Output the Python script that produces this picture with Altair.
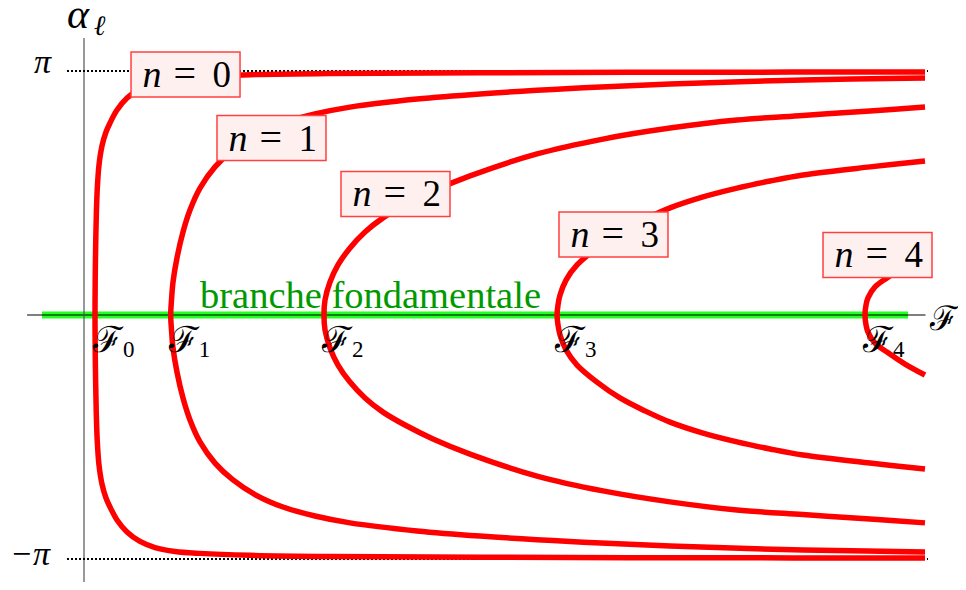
import altair as alt
import pandas as pd

# ---- data: load F (units where F_n ~ (2n+1)^2), alpha in units of pi
# lower half of each branch, from the bifurcation point to the right edge (upper half is its mirror)
N0_F = [1.140, 1.161, 1.202, 1.264, 1.368, 1.554, 1.865, 2.280, 2.694, 3.420, 4.456, 5.803, 7.358,
        9.430, 12.021, 17.202, 25.492, 41.036, 63.834, 87.150]
N0_A = [0.0, -0.143, -0.266, -0.389, -0.512, -0.615, -0.693, -0.750, -0.787, -0.840, -0.889, -0.928, -0.953,
        -0.969, -0.977, -0.985, -0.990, -0.993, -0.995, -0.996]

N1_F = [8.984, 9.067, 9.223, 9.637, 10.259, 10.984, 12.021, 13.575, 15.440, 17.720, 20.622, 23.938, 27.565,
        34.508, 41.036, 50.363, 60.725, 74.508, 87.150]
N1_A = [0.0, -0.061, -0.135, -0.234, -0.340, -0.430, -0.520, -0.607, -0.676, -0.736, -0.787, -0.824, -0.852,
        -0.885, -0.906, -0.928, -0.947, -0.963, -0.971]

N2_F = [24.870, 24.974, 25.492, 26.321, 27.565, 29.119, 30.984, 33.264, 36.166, 40.000, 46.943, 53.782,
        60.725, 67.668, 74.508, 81.451, 87.150]
N2_A = [0.0, -0.061, -0.135, -0.205, -0.275, -0.340, -0.398, -0.451, -0.508, -0.570, -0.660, -0.721,
        -0.766, -0.799, -0.818, -0.836, -0.852]

N3_F = [49.02, 49.12, 49.33, 49.95, 51.09, 53.16, 55.54, 58.13, 60.73, 64.15, 67.67, 71.09, 74.51, 81.45, 87.15]
N3_A = [0.0, -0.041, -0.082, -0.143, -0.205, -0.275, -0.340, -0.393, -0.439, -0.484, -0.520, -0.549, -0.574,
        -0.607, -0.631]

N4_F = [80.93, 81.04, 81.24, 81.97, 83.21, 85.08, 87.15]
N4_A = [0.0, -0.041, -0.070, -0.115, -0.152, -0.201, -0.246]

BRANCH_N = ["0", "1", "2", "3", "4"]
CRIT_F = [1.14, 8.98, 24.87, 49.02, 80.93]
LABEL_F = [10.52, 19.43, 32.28, 54.87, 82.23]
LABEL_A = [0.986, 0.725, 0.496, 0.330, 0.246]

FUND_TEXT = "branche fondamentale"

# ---- layout of the frame (data units)
X_MIN, X_MAX = -7.876, 90.57
Y_MIN, Y_MAX = -1.0943, 1.2582

xs = alt.Scale(domain=[X_MIN, X_MAX], nice=False, zero=False)
ys = alt.Scale(domain=[Y_MIN, Y_MAX], nice=False, zero=False)
X = alt.X("F:Q", scale=xs, axis=None)
Y = alt.Y("A:Q", scale=ys, axis=None)

rows = []
for n, F, A in zip(BRANCH_N, [N0_F, N1_F, N2_F, N3_F, N4_F], [N0_A, N1_A, N2_A, N3_A, N4_A]):
    pts = list(zip(F, A))
    upper = [(f, -a) for f, a in reversed(pts)]
    seq = upper + pts[1:]
    for i, (f, a) in enumerate(seq):
        rows.append({"n": n, "F": f, "A": a, "i": i})
curves = pd.DataFrame(rows)

band = alt.Chart(pd.DataFrame({"F": [-4.35], "F2": [85.39], "A": [0.0]})).mark_rule(
    color="#22ff22", strokeWidth=7).encode(x=X, x2="F2:Q", y=Y)
haxis = alt.Chart(pd.DataFrame({"F": [-5.9], "F2": [87.2], "A": [0.0]})).mark_rule(
    color="black", strokeWidth=1.2).encode(x=X, x2="F2:Q", y=Y)
vaxis = alt.Chart(pd.DataFrame({"F": [0.0], "A": [1.135], "A2": [Y_MIN]})).mark_rule(
    color="#555555", strokeWidth=1.2).encode(x=X, y=Y, y2="A2:Q")
dots = alt.Chart(pd.DataFrame({"F": [-1.76, -1.76], "F2": [87.46, 87.46], "A": [1.0, -1.0]})).mark_rule(
    color="black", strokeWidth=2, strokeDash=[2, 2]).encode(x=X, x2="F2:Q", y=Y)

lines = alt.Chart(curves).mark_line(
    color="#ff0000", strokeWidth=5.5, strokeCap="butt", strokeJoin="round", interpolate="catmull-rom"
).encode(x=X, y=Y, detail="n:N", order="i:Q")

labels = pd.DataFrame({"F": LABEL_F, "A": LABEL_A, "t": BRANCH_N})
boxes = alt.Chart(labels).mark_rect(
    fill="#fff0f0", stroke="#ff4040", strokeWidth=1.5,
    xOffset=-54.5, x2Offset=54.5, yOffset=-22.5, y2Offset=22.5
).encode(x=X, x2="F:Q", y=Y, y2="A:Q")

SERIF = "Liberation Serif"
SCRIPT = "DejaVu Serif"
lab_n = alt.Chart(labels).mark_text(
    text="n", font=SERIF, fontStyle="italic", fontSize=38, align="left", baseline="alphabetic",
    dx=-43, dy=12.5, color="black").encode(x=X, y=Y)
lab_eq = alt.Chart(labels).mark_text(
    text="=", font=SERIF, fontSize=40, align="left", baseline="alphabetic",
    dx=-12, dy=12.5, color="black").encode(x=X, y=Y)
lab_k = alt.Chart(labels).mark_text(
    font=SERIF, fontSize=37, align="left", baseline="alphabetic",
    dx=27, dy=12.5, color="black").encode(x=X, y=Y, text="t:N")

crit = pd.DataFrame({"F": CRIT_F, "A": [-0.152] * 5, "t": BRANCH_N})
crit_F = alt.Chart(crit).mark_text(
    text="ℱ", font=SCRIPT, fontSize=36, align="left", baseline="alphabetic",
    dx=-2, color="black").encode(x=X, y=Y)
crit_k = alt.Chart(crit).mark_text(
    font=SERIF, fontSize=23, align="left", baseline="alphabetic",
    dx=28, dy=5, color="black").encode(x=X, y=Y, text="t:N")

fund = alt.Chart(pd.DataFrame({"F": [12.02], "A": [0.029], "t": [FUND_TEXT]})).mark_text(
    font=SERIF, fontSize=38.5, align="left", baseline="alphabetic", color="#009a00"
).encode(x=X, y=Y, text="t:N")

ticks = alt.Chart(pd.DataFrame({"F": [-4.30, -5.60], "A": [0.992, -1.025], "t": ["π", "−π"]})).mark_text(
    font=SERIF, fontStyle="italic", fontSize=34, align="center", baseline="alphabetic", color="black"
).encode(x=X, y=Y, text="t:N")

alpha = alt.Chart(pd.DataFrame({"F": [-1.76], "A": [1.176]})).mark_text(
    text="α", font=SERIF, fontStyle="italic", fontSize=42, align="left", baseline="alphabetic", color="black"
).encode(x=X, y=Y)
ell = alt.Chart(pd.DataFrame({"F": [1.00], "A": [1.148]})).mark_text(
    text="ℓ", font=SERIF, fontStyle="italic", fontSize=28, align="left", baseline="alphabetic", color="black"
).encode(x=X, y=Y)
faxis = alt.Chart(pd.DataFrame({"F": [87.65], "A": [-0.061]})).mark_text(
    text="ℱ", font=SCRIPT, fontSize=34, align="left", baseline="alphabetic", color="black"
).encode(x=X, y=Y)

chart = alt.layer(
    band, haxis, vaxis, dots, lines, fund, boxes, lab_n, lab_eq, lab_k, crit_F, crit_k, ticks, alpha, ell, faxis
).properties(
    width=950, height=574, autosize=alt.AutoSizeParams(type="none"), padding=0, background="white"
).configure_view(stroke=None)

chart.save("out.html", embed_options={"renderer": "svg", "actions": False})
